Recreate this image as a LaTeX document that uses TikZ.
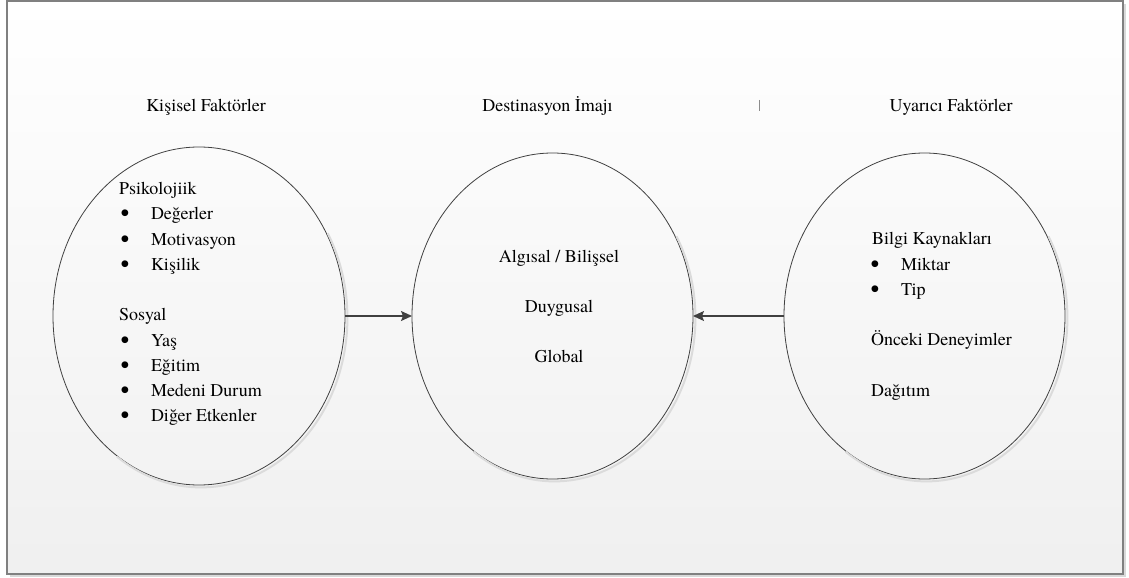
\documentclass[tikz,border=0pt]{standalone}
\usepackage{fontspec}
\setmainfont{TeX Gyre Termes}
\usetikzlibrary{shapes.geometric,arrows.meta}
\begin{document}
\begin{tikzpicture}[x=1bp,y=-1bp,
  every node/.style={inner sep=0pt, outer sep=0pt, font=\fontsize{18bp}{25bp}\selectfont},
  txt/.style={anchor=base west},
  ctxt/.style={anchor=base},
  bul/.style={anchor=base west, font=\fontsize{25bp}{25bp}\selectfont},
  oval/.style={ellipse, draw=black!75, line width=0.8bp},
  ovalshadow/.style={draw=black!14, line width=2bp},
  link/.style={draw=black!75, line width=1.3bp, -{Stealth[length=11bp,width=10bp,inset=2bp]}},
]
\useasboundingbox (0,0) rectangle (1129,578);
\fill[white] (0,0) rectangle (1129,578);
% frame with shadow
\fill[black!15] (10,4) rectangle (1126,577);
\shade[top color=white, bottom color=black!6] (7,1) rectangle (1123,574);
\draw[black!50, line width=1.5bp] (7,1) rectangle (1123,574);

% ellipses
\node[oval, minimum width=292bp, minimum height=338bp] (L) at (199,316) {};
\node[oval, minimum width=281bp, minimum height=326bp] (M) at (552.5,316) {};
\node[oval, minimum width=281bp, minimum height=326bp] (R) at (924.5,316) {};
\draw[ovalshadow] ([shift={(2,2)}]L.center) ++(-30:146.4 and 169.4) arc[start angle=-30, end angle=125, x radius=146.4, y radius=169.4];
\draw[ovalshadow] ([shift={(2,2)}]M.center) ++(-30:140.9 and 163.4) arc[start angle=-30, end angle=125, x radius=140.9, y radius=163.4];
\draw[ovalshadow] ([shift={(2,2)}]R.center) ++(-30:140.9 and 163.4) arc[start angle=-30, end angle=125, x radius=140.9, y radius=163.4];

% titles
\node[ctxt] (kf) at (206,111.5) {Kişisel Faktörler};
\node[ctxt] (di) at (547.5,111.5) {Destinasyon İmajı};
\node[ctxt] (uf) at (951,112) {Uyarıcı Faktörler};
\draw[black!45, line width=0.8bp] (759.5,100) -- (759.5,111);

% left ellipse text
\node[txt] (psi) at (119,195) {Psikolojiik};
\node[bul] (lb1) at (120.6,222) {•};
\node[txt] (l1) at (151,220) {Değerler};
\node[bul] (lb2) at (120.6,247.2) {•};
\node[txt] (l2) at (151,245.2) {Motivasyon};
\node[bul] (lb3) at (120.6,272.4) {•};
\node[txt] (l3) at (151,270.4) {Kişilik};
\node[txt] (sos) at (119,320.8) {Sosyal};
\node[bul] (lb4) at (120.6,348) {•};
\node[txt] (l4) at (151,346) {Yaş};
\node[bul] (lb5) at (120.6,373.2) {•};
\node[txt] (l5) at (151,371.2) {Eğitim};
\node[bul] (lb6) at (120.6,398.4) {•};
\node[txt] (l6) at (151,396.4) {Medeni Durum};
\node[bul] (lb7) at (120.6,423.6) {•};
\node[txt] (l7) at (151,421.6) {Diğer Etkenler};

% middle ellipse text
\node[ctxt] (m1) at (559,262.5) {Algısal / Bilişsel};
\node[ctxt] (m2) at (559,312.7) {Duygusal};
\node[ctxt] (m3) at (559,362.7) {Global};

% right ellipse text
\node[txt] (bk) at (872,245) {Bilgi Kaynakları};
\node[bul] (rb1) at (870.6,272.2) {•};
\node[txt] (r1) at (901,270.2) {Miktar};
\node[bul] (rb2) at (870.6,297.4) {•};
\node[txt] (r2) at (901,295.4) {Tip};
\node[txt] (od) at (871,345.8) {Önceki Deneyimler};
\node[txt] (dg) at (871,396.2) {Dağıtım};

% connectors
\draw[link] (L.east) -- (M.west);
\draw[link] (R.west) -- (M.east);
\end{tikzpicture}
\end{document}
